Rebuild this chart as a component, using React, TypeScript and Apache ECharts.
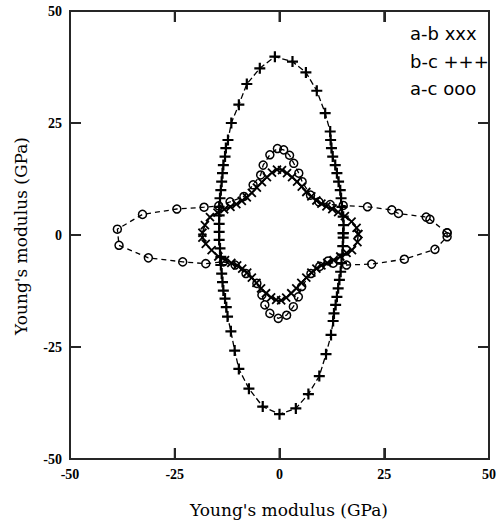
import React, { useEffect, useRef } from "react";
import * as echarts from "echarts";

// Axis ticks (GPa)
const axisMin = -50;
const axisMax = 50;
const axisStep = 25;
const innerTicks = [-25, 0, 25];

// Legend labels
const legendLines = ["a-b xxx", "b-c +++", "a-c ooo"];

// a-b plane (x markers), [x, y] in GPa
const abPoints: number[][] = [
  [18.8, 0.2], [18.4, 1.6], [17.2, 3.0], [15.6, 4.2], [14.0, 5.1], [12.6, 5.8], [11.2, 6.4], [10.0, 7.0],
  [8.8, 7.7], [7.6, 8.6], [6.4, 9.6], [5.3, 10.8], [4.2, 11.9], [3.0, 12.9], [1.8, 13.8], [0.6, 14.5],
  [-0.6, 14.6], [-1.8, 13.9], [-3.0, 12.9], [-4.2, 11.8], [-5.4, 10.6], [-6.6, 9.4], [-7.8, 8.4], [-9.0, 7.6],
  [-10.3, 6.9], [-11.7, 6.3], [-13.2, 5.7], [-14.8, 5.0], [-16.6, 4.0], [-17.8, 2.2], [-18.4, 0.5],
  [-18.4, -0.6], [-17.6, -2.0], [-16.2, -3.4], [-14.6, -4.8], [-13.0, -5.6], [-11.5, -6.2], [-10.1, -6.8],
  [-8.9, -7.5], [-7.7, -8.4], [-6.6, -9.5], [-5.5, -10.7], [-4.4, -11.9], [-3.2, -13.0], [-2.0, -13.9], [-0.8, -14.5],
  [0.4, -14.6], [1.6, -14.0], [2.8, -13.0], [4.0, -11.9], [5.2, -10.7], [6.4, -9.5], [7.6, -8.4], [8.8, -7.5],
  [10.0, -6.8], [11.4, -6.2], [12.9, -5.6], [14.5, -4.8], [16.0, -4.0], [17.3, -3.4], [18.6, -1.6], [18.8, 0.2],
];

// b-c plane (+ markers)
const bcPoints: number[][] = [
  [15.2, 0.4], [15.3, 2.2], [15.2, 4.1], [14.9, 6.3], [14.7, 8.2], [14.5, 10.0], [14.1, 11.9], [13.7, 13.8],
  [13.3, 15.6], [12.7, 17.5], [12.4, 19.4], [12.2, 21.2], [12.1, 23.1], [10.9, 27.2], [8.9, 32.2], [6.3, 36.3],
  [3.1, 38.7], [-1.1, 39.8], [-4.7, 37.2], [-7.8, 33.7], [-9.7, 29.1], [-11.5, 25.0], [-12.3, 21.2], [-12.8, 19.4],
  [-13.0, 17.5], [-13.4, 15.6], [-13.6, 13.8], [-13.8, 11.9], [-14.0, 10.0], [-14.2, 8.2], [-14.4, 6.3], [-14.4, 4.4],
  [-14.4, 2.5], [-14.4, 0.7], [-14.4, -1.1], [-14.2, -3.0], [-14.0, -4.9], [-14.0, -6.7], [-13.8, -8.6], [-13.6, -10.5],
  [-13.4, -12.4], [-13.0, -14.2], [-12.7, -16.1], [-12.4, -18.2], [-11.6, -21.5], [-10.7, -25.8], [-9.7, -29.9],
  [-7.3, -34.3], [-4.0, -38.3], [0.0, -40.0], [3.9, -38.7], [6.9, -35.5], [9.5, -31.5], [11.1, -26.6], [12.3, -22.3],
  [12.8, -19.2], [13.0, -17.5], [13.4, -15.6], [13.7, -13.8], [14.0, -11.9], [14.3, -10.0], [14.6, -8.2], [14.8, -6.3],
  [15.0, -4.4], [15.1, -2.5], [15.2, -0.6], [15.2, 0.4],
];

// a-c plane (o markers)
const acPoints: number[][] = [
  [40.0, 0.5], [35.9, 3.5], [35.0, 4.0], [28.4, 4.8], [26.8, 5.6], [21.0, 6.3], [15.2, 6.6], [12.1, 6.8],
  [9.4, 7.4], [7.4, 8.9], [5.4, 11.9], [4.6, 13.8], [3.4, 16.0], [2.4, 17.8], [1.0, 19.0], [-0.5, 19.3],
  [-2.3, 17.9], [-3.9, 15.6], [-4.5, 13.4], [-6.3, 11.2], [-8.5, 8.6], [-11.8, 7.4], [-14.5, 6.5], [-18.0, 6.2],
  [-24.5, 5.8], [-32.7, 4.6], [-38.7, 1.3], [-38.3, -2.3], [-31.3, -5.1], [-23.1, -6.0], [-17.6, -6.4], [-13.4, -6.0],
  [-10.6, -6.7], [-8.0, -8.6], [-5.4, -10.8], [-4.2, -13.4], [-3.5, -15.6], [-2.3, -17.5], [-0.3, -18.6], [1.7, -17.9],
  [3.3, -16.0], [4.5, -13.8], [5.3, -11.5], [7.5, -8.6], [9.6, -7.0], [11.6, -5.8], [12.8, -6.3], [16.0, -6.7],
  [22.0, -6.5], [29.8, -5.4], [37.1, -3.2], [40.0, -0.4], [40.0, 0.5],
];

const PLUS = "path://M5,0 L5,10 M0,5 L10,5";
const CROSS = "path://M0,0 L10,10 M10,0 L0,10";
const FRAME = "#262626";

function mkAxis(pos: string, showLabel: boolean) {
  return {
    type: "value",
    position: pos,
    min: axisMin,
    max: axisMax,
    interval: axisStep,
    axisLine: { show: true, onZero: false, lineStyle: { color: FRAME, width: 2 } },
    axisTick: { show: true, inside: true, length: 11, lineStyle: { color: FRAME, width: 2 } },
    splitLine: { show: false },
    axisLabel: showLabel
      ? { show: true, fontFamily: "Liberation Serif", fontWeight: "bold", fontSize: 14, color: "#000", margin: 8 }
      : { show: false },
  };
}

export default function App() {
  const ref = useRef<HTMLDivElement>(null);

  useEffect(() => {
    if (!ref.current) return;
    const chart = echarts.init(ref.current, undefined, { renderer: "svg" });

    const textGraphics: any[] = [
      {
        type: "text",
        x: 289,
        y: 510,
        style: {
          text: "Young's modulus (GPa)",
          fontFamily: "DejaVu Serif",
          fontSize: 17,
          fill: "#000",
          textAlign: "center",
          textVerticalAlign: "middle",
        },
      },
      {
        type: "text",
        x: 21,
        y: 236,
        rotation: Math.PI / 2,
        style: {
          text: "Young's modulus (GPa)",
          fontFamily: "DejaVu Serif",
          fontSize: 17,
          fill: "#000",
          textAlign: "center",
          textVerticalAlign: "middle",
        },
      },
      ...legendLines.map((t, i) => ({
        type: "text",
        x: 410,
        y: [33, 61, 88][i],
        style: {
          text: t,
          fontFamily: "DejaVu Sans",
          fontSize: 18,
          fill: "#000",
          textAlign: "left",
          textVerticalAlign: "middle",
        },
      })),
    ];

    chart.setOption({
      animation: false,
      grid: { left: 70, right: 13, top: 11, bottom: 69 },
      xAxis: [mkAxis("bottom", true), mkAxis("top", false)],
      yAxis: [mkAxis("left", true), mkAxis("right", false)],
      series: [
        {
          name: "a-c",
          type: "line",
          xAxisIndex: 0,
          yAxisIndex: 0,
          data: acPoints,
          symbol: "circle",
          symbolSize: 8,
          itemStyle: { color: "rgba(255,255,255,0)", borderColor: "#000", borderWidth: 1.5 },
          lineStyle: { color: "#000", width: 1.3, type: [5, 4] },
        },
        {
          name: "b-c",
          type: "line",
          xAxisIndex: 0,
          yAxisIndex: 0,
          data: bcPoints,
          symbol: PLUS,
          symbolSize: 11,
          itemStyle: { color: "#000", borderColor: "#000", borderWidth: 2.2 },
          lineStyle: { color: "#000", width: 1.3, type: [6, 3] },
        },
        {
          name: "a-b",
          type: "line",
          xAxisIndex: 0,
          yAxisIndex: 0,
          data: abPoints,
          symbol: CROSS,
          symbolSize: 8,
          itemStyle: { color: "#000", borderColor: "#000", borderWidth: 1.8 },
          lineStyle: { color: "#000", width: 1.5 },
        },
      ],
      graphic: textGraphics,
    });

    // Frame and inner ticks as filled rectangles placed through the chart's own scales
    const toPx = (x: number, y: number) =>
      chart.convertToPixel({ xAxisIndex: 0, yAxisIndex: 0 }, [x, y]) as number[];
    const bl = toPx(axisMin, axisMin);
    const tr = toPx(axisMax, axisMax);
    if (bl && tr && isFinite(bl[0]) && isFinite(tr[0])) {
      const L = bl[0], B = bl[1], R = tr[0], T = tr[1];
      const w = 2;
      const tl = 11;
      const bars: any[] = [
        { type: "rect", shape: { x: L - w / 2, y: T - w / 2, width: R - L + w, height: w } },
        { type: "rect", shape: { x: L - w / 2, y: B - w / 2, width: R - L + w, height: w } },
        { type: "rect", shape: { x: L - w / 2, y: T - w / 2, width: w, height: B - T + w } },
        { type: "rect", shape: { x: R - w / 2, y: T - w / 2, width: w, height: B - T + w } },
      ];
      innerTicks.forEach((v) => {
        const px = toPx(v, 0)[0];
        const py = toPx(0, v)[1];
        bars.push({ type: "rect", shape: { x: px - w / 2, y: B - tl, width: w, height: tl } });
        bars.push({ type: "rect", shape: { x: px - w / 2, y: T, width: w, height: tl } });
        bars.push({ type: "rect", shape: { x: L, y: py - w / 2, width: tl, height: w } });
        bars.push({ type: "rect", shape: { x: R - tl, y: py - w / 2, width: tl, height: w } });
      });
      chart.setOption({
        graphic: [
          ...textGraphics,
          ...bars.map((b) => ({ ...b, silent: true, z: 10, style: { fill: FRAME, stroke: null } })),
        ],
      });
    }

    return () => chart.dispose();
  }, []);

  return (
    <div
      ref={ref}
      style={{ position: "absolute", left: 0, top: 0, width: 502, height: 528 }}
    />
  );
}
